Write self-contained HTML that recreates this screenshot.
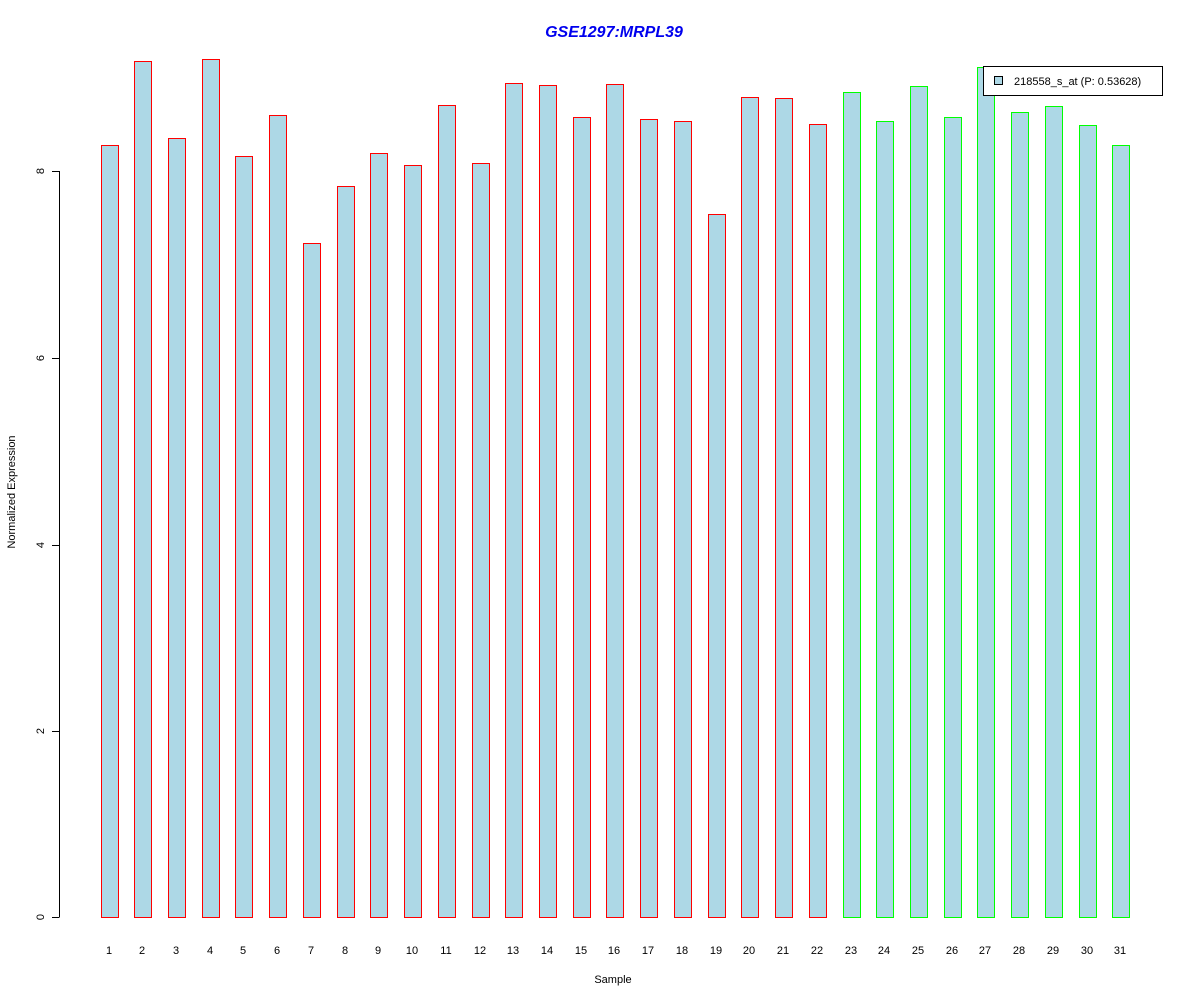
<!DOCTYPE html>
<html><head><style>body{margin:0;background:#fff}svg{display:block}text{font-family:"Liberation Sans",Arial,sans-serif}</style></head>
<body>
<svg width="1200" height="1000" xmlns="http://www.w3.org/2000/svg">
<text x="614" y="37" text-anchor="middle" font-size="16" font-weight="bold" font-style="italic" fill="#0000ee">GSE1297:MRPL39</text>
<g fill="#add8e6" stroke="none" shape-rendering="crispEdges">
<rect x="101" y="145" width="18" height="773"/>
<rect x="134" y="61" width="18" height="857"/>
<rect x="168" y="138" width="18" height="780"/>
<rect x="202" y="59" width="18" height="859"/>
<rect x="235" y="156" width="18" height="762"/>
<rect x="269" y="115" width="18" height="803"/>
<rect x="303" y="243" width="18" height="675"/>
<rect x="337" y="186" width="18" height="732"/>
<rect x="370" y="153" width="18" height="765"/>
<rect x="404" y="165" width="18" height="753"/>
<rect x="438" y="105" width="18" height="813"/>
<rect x="472" y="163" width="18" height="755"/>
<rect x="505" y="83" width="18" height="835"/>
<rect x="539" y="85" width="18" height="833"/>
<rect x="573" y="117" width="18" height="801"/>
<rect x="606" y="84" width="18" height="834"/>
<rect x="640" y="119" width="18" height="799"/>
<rect x="674" y="121" width="18" height="797"/>
<rect x="708" y="214" width="18" height="704"/>
<rect x="741" y="97" width="18" height="821"/>
<rect x="775" y="98" width="18" height="820"/>
<rect x="809" y="124" width="18" height="794"/>
<rect x="843" y="92" width="18" height="826"/>
<rect x="876" y="121" width="18" height="797"/>
<rect x="910" y="86" width="18" height="832"/>
<rect x="944" y="117" width="18" height="801"/>
<rect x="977" y="67" width="18" height="851"/>
<rect x="1011" y="112" width="18" height="806"/>
<rect x="1045" y="106" width="18" height="812"/>
<rect x="1079" y="125" width="18" height="793"/>
<rect x="1112" y="145" width="18" height="773"/>
</g>
<g fill="none" stroke="#ff0000" stroke-width="1" shape-rendering="crispEdges">
<rect x="101.5" y="145.5" width="17" height="772"/>
<rect x="134.5" y="61.5" width="17" height="856"/>
<rect x="168.5" y="138.5" width="17" height="779"/>
<rect x="202.5" y="59.5" width="17" height="858"/>
<rect x="235.5" y="156.5" width="17" height="761"/>
<rect x="269.5" y="115.5" width="17" height="802"/>
<rect x="303.5" y="243.5" width="17" height="674"/>
<rect x="337.5" y="186.5" width="17" height="731"/>
<rect x="370.5" y="153.5" width="17" height="764"/>
<rect x="404.5" y="165.5" width="17" height="752"/>
<rect x="438.5" y="105.5" width="17" height="812"/>
<rect x="472.5" y="163.5" width="17" height="754"/>
<rect x="505.5" y="83.5" width="17" height="834"/>
<rect x="539.5" y="85.5" width="17" height="832"/>
<rect x="573.5" y="117.5" width="17" height="800"/>
<rect x="606.5" y="84.5" width="17" height="833"/>
<rect x="640.5" y="119.5" width="17" height="798"/>
<rect x="674.5" y="121.5" width="17" height="796"/>
<rect x="708.5" y="214.5" width="17" height="703"/>
<rect x="741.5" y="97.5" width="17" height="820"/>
<rect x="775.5" y="98.5" width="17" height="819"/>
<rect x="809.5" y="124.5" width="17" height="793"/>
</g>
<g fill="none" stroke="#00ff00" stroke-width="1" shape-rendering="crispEdges">
<rect x="843.5" y="92.5" width="17" height="825"/>
<rect x="876.5" y="121.5" width="17" height="796"/>
<rect x="910.5" y="86.5" width="17" height="831"/>
<rect x="944.5" y="117.5" width="17" height="800"/>
<rect x="977.5" y="67.5" width="17" height="850"/>
<rect x="1011.5" y="112.5" width="17" height="805"/>
<rect x="1045.5" y="106.5" width="17" height="811"/>
<rect x="1079.5" y="125.5" width="17" height="792"/>
<rect x="1112.5" y="145.5" width="17" height="772"/>
</g>
<g shape-rendering="crispEdges" stroke="#000">
<line x1="59.5" y1="171" x2="59.5" y2="917" />
<line x1="52" y1="917.5" x2="59.5" y2="917.5"/>
<line x1="52" y1="731.5" x2="59.5" y2="731.5"/>
<line x1="52" y1="545.5" x2="59.5" y2="545.5"/>
<line x1="52" y1="358.5" x2="59.5" y2="358.5"/>
<line x1="52" y1="171.5" x2="59.5" y2="171.5"/>
</g>
<g font-size="11" text-anchor="middle">
<text transform="translate(44,917) rotate(-90)">0</text>
<text transform="translate(44,731) rotate(-90)">2</text>
<text transform="translate(44,545) rotate(-90)">4</text>
<text transform="translate(44,358) rotate(-90)">6</text>
<text transform="translate(44,171) rotate(-90)">8</text>
<text transform="translate(15,492) rotate(-90)">Normalized Expression</text>
<text x="613" y="983">Sample</text>
<text x="109" y="954">1</text><text x="142" y="954">2</text><text x="176" y="954">3</text><text x="210" y="954">4</text><text x="243" y="954">5</text><text x="277" y="954">6</text><text x="311" y="954">7</text><text x="345" y="954">8</text><text x="378" y="954">9</text><text x="412" y="954">10</text><text x="446" y="954">11</text><text x="480" y="954">12</text><text x="513" y="954">13</text><text x="547" y="954">14</text><text x="581" y="954">15</text><text x="614" y="954">16</text><text x="648" y="954">17</text><text x="682" y="954">18</text><text x="716" y="954">19</text><text x="749" y="954">20</text><text x="783" y="954">21</text><text x="817" y="954">22</text><text x="851" y="954">23</text><text x="884" y="954">24</text><text x="918" y="954">25</text><text x="952" y="954">26</text><text x="985" y="954">27</text><text x="1019" y="954">28</text><text x="1053" y="954">29</text><text x="1087" y="954">30</text><text x="1120" y="954">31</text>
</g>
<g shape-rendering="crispEdges">
<rect x="983.5" y="66.5" width="179" height="29" fill="#fff" stroke="#000"/>
<rect x="994.5" y="76.5" width="8" height="8" fill="#add8e6" stroke="#000"/>
</g>
<text x="1014" y="85" font-size="11">218558_s_at (P: 0.53628)</text>
</svg>
</body></html>
